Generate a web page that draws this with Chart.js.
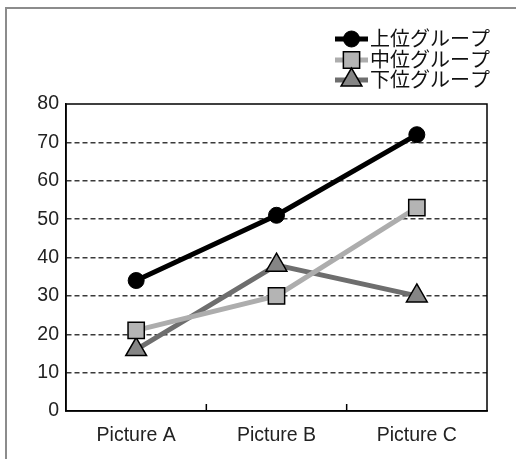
<!DOCTYPE html>
<html>
<head>
<meta charset="utf-8">
<script src="https://cdn.jsdelivr.net/npm/chart.js@4/dist/chart.umd.min.js"></script>
<style>
  html, body { margin: 0; padding: 0; background: #fff; }
  #wrap { position: relative; width: 516px; height: 459px; }
  #frame { position: absolute; left: 5px; top: 7px; right: 0; bottom: 0;
           border-top: 2px solid #8c8c8c; border-left: 2px solid #8c8c8c; }
  canvas { position: absolute; left: 0; top: 0; }
</style>
</head>
<body>
<div id="wrap">
  <div id="frame"></div>
  <canvas id="chart" width="516" height="459"></canvas>
</div>
<script>
// データ
const categories = ['Picture A', 'Picture B', 'Picture C'];
const groupNames = ['上位グループ', '中位グループ', '下位グループ'];
const upperValues = [34, 51, 72];
const middleValues = [21, 30, 53];
const lowerValues = [16, 38, 30];
const yTicks = [0, 10, 20, 30, 40, 50, 60, 70, 80];

const FONT = '"Liberation Sans", "Noto Sans CJK JP", Arial, sans-serif';

// 枠線（上・右）と内向きの目盛り
const framePlugin = {
  id: 'frame',
  afterDraw(chart) {
    const { ctx, chartArea: a, scales } = chart;
    ctx.save();
    ctx.strokeStyle = '#000';
    ctx.lineWidth = 1.5;
    ctx.strokeRect(a.left, a.top, a.right - a.left, a.bottom - a.top);
    // カテゴリの境目に小さな目盛り
    const x = scales.x;
    ctx.beginPath();
    for (let i = 1; i < categories.length; i++) {
      const px = (x.getPixelForTick(i - 1) + x.getPixelForTick(i)) / 2;
      ctx.moveTo(px, a.bottom);
      ctx.lineTo(px, a.bottom - 7);
    }
    ctx.stroke();
    ctx.restore();
  }
};

// 凡例（線＋マーカー）
const legendPlugin = {
  id: 'lineLegend',
  afterDraw(chart) {
    const { ctx } = chart;
    const x0 = 335, x1 = 368, tx = 370;
    const rows = [39, 60, 80];
    ctx.save();
    chart.data.datasets.forEach((ds, i) => {
      const y = rows[i];
      ctx.strokeStyle = ds.borderColor;
      ctx.lineWidth = ds.borderWidth;
      ctx.beginPath();
      ctx.moveTo(x0, y);
      ctx.lineTo(x1, y);
      ctx.stroke();
      ctx.fillStyle = ds.pointBackgroundColor;
      ctx.strokeStyle = ds.pointBorderColor;
      ctx.lineWidth = ds.pointBorderWidth;
      Chart.helpers.drawPoint(ctx, {
        pointStyle: ds.pointStyle,
        radius: ds.pointRadius,
        borderWidth: ds.pointBorderWidth,
        rotation: 0
      }, (x0 + x1) / 2, y);
      ctx.fillStyle = '#111';
      ctx.font = '20px ' + FONT;
      ctx.textBaseline = 'middle';
      ctx.fillText(ds.label, tx, y + 1);
    });
    ctx.restore();
  }
};

const ctx = document.getElementById('chart').getContext('2d');
new Chart(ctx, {
  type: 'line',
  data: {
    labels: categories,
    datasets: [
      {
        label: groupNames[0],
        data: upperValues,
        borderColor: '#000',
        borderWidth: 5,
        pointStyle: 'circle',
        pointRadius: 8,
        pointBackgroundColor: '#000',
        pointBorderColor: '#000',
        pointBorderWidth: 1
      },
      {
        label: groupNames[1],
        data: middleValues,
        borderColor: '#adadad',
        borderWidth: 5,
        pointStyle: 'rect',
        pointRadius: 11.5,
        pointBackgroundColor: '#b4b4b4',
        pointBorderColor: '#000',
        pointBorderWidth: 1.5
      },
      {
        label: groupNames[2],
        data: lowerValues,
        borderColor: '#6e6e6e',
        borderWidth: 5,
        pointStyle: 'triangle',
        pointRadius: 12,
        pointBackgroundColor: '#858585',
        pointBorderColor: '#000',
        pointBorderWidth: 1.5
      }
    ]
  },
  options: {
    responsive: false,
    animation: false,
    layout: { padding: { left: 0, top: 104, right: 29, bottom: 0 } },
    plugins: {
      legend: { display: false },
      tooltip: { enabled: false }
    },
    scales: {
      x: {
        offset: true,
        grid: { display: false },
        border: { color: '#000', width: 1.5 },
        ticks: { color: '#222', font: { family: FONT, size: 19.5 }, padding: 5 },
        afterFit(axis) { axis.height = 48; }
      },
      y: {
        min: 0,
        max: 80,
        afterBuildTicks(axis) { axis.ticks = yTicks.map(v => ({ value: v })); },
        grid: {
          color: c => (c.tick.value === 0 || c.tick.value === 80) ? 'rgba(0,0,0,0)' : '#3a3a3a',
          lineWidth: 1.5,
          drawTicks: false
        },
        border: { color: '#000', width: 1.5, dash: [5, 3] },
        ticks: { color: '#222', font: { family: FONT, size: 19.5 }, padding: 7 },
        afterFit(axis) { axis.width = 66; }
      }
    }
  },
  plugins: [framePlugin, legendPlugin]
});
</script>
</body>
</html>
